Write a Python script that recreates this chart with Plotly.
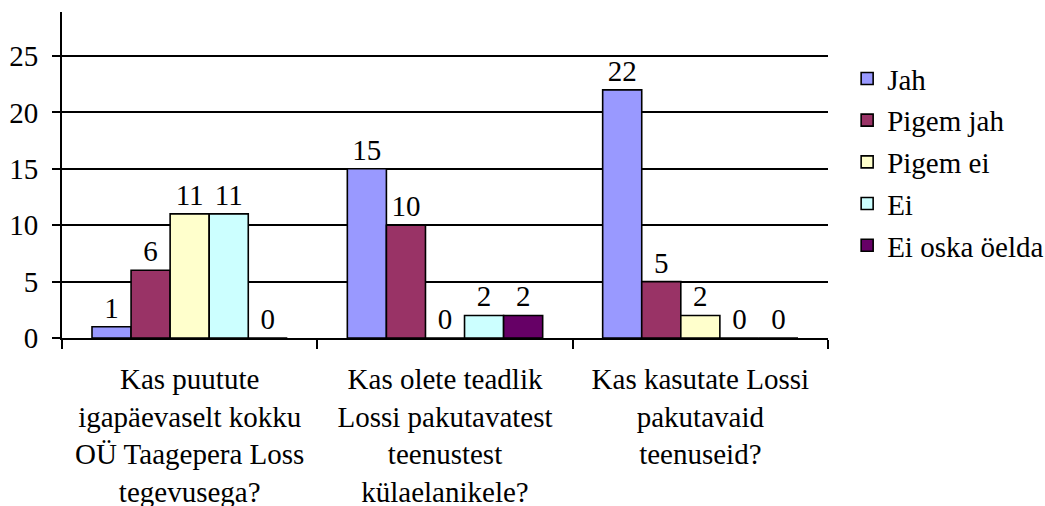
import plotly.graph_objects as go

categories = [
    "Kas puutute<br>igapäevaselt kokku<br>OÜ Taagepera Loss<br>tegevusega?",
    "Kas olete teadlik<br>Lossi pakutavatest<br>teenustest<br>külaelanikele?",
    "Kas kasutate Lossi<br>pakutavaid<br>teenuseid?",
]
series_names = ["Jah", "Pigem jah", "Pigem ei", "Ei", "Ei oska öelda"]
jah = [1, 15, 22]
pigem_jah = [6, 10, 5]
pigem_ei = [11, 0, 2]
ei = [11, 2, 0]
ei_oska = [0, 2, 0]
series_values = [jah, pigem_jah, pigem_ei, ei, ei_oska]
colors = ["#9999FF", "#993366", "#FFFFCC", "#CCFFFF", "#660066"]
y_ticks = [0, 5, 10, 15, 20, 25]

FONT = "Times New Roman, serif"
FS = 29

fig = go.Figure()
for i, (name, vals, col) in enumerate(zip(series_names, series_values, colors)):
    fig.add_trace(go.Bar(
        name=name, x=categories, y=vals,
        marker=dict(color=col, line=dict(color="black", width=1.6)),
        text=[str(v) for v in vals], textposition="outside",
        textfont=dict(family=FONT, size=FS, color="black"),
        cliponaxis=False, legendgroup=f"g{i}",
    ))

fig.update_layout(
    width=1045, height=506,
    margin=dict(l=62, r=217, t=12, b=168, autoexpand=False),
    paper_bgcolor="white", plot_bgcolor="white",
    barmode="group", bargap=0.235, bargroupgap=0,
    font=dict(family=FONT, size=FS, color="black"),
    showlegend=True,
    legend=dict(
        x=1.025, y=0.874, xanchor="left", yanchor="top",
        font=dict(family=FONT, size=FS, color="black"),
        traceorder="grouped", tracegroupgap=1,
        itemwidth=30, bgcolor="rgba(0,0,0,0)",
    ),
)
fig.update_yaxes(
    range=[0, 28.9], tickvals=y_ticks, ticktext=[str(t) for t in y_ticks],
    showgrid=True, gridcolor="black", gridwidth=1.6,
    showline=True, linecolor="black", linewidth=2,
    ticks="outside", ticklen=8, tickcolor="black", tickwidth=2,
    zeroline=False, tickfont=dict(family=FONT, size=FS), automargin=False,
    ticklabelstandoff=8,
)
fig.update_xaxes(
    range=[-0.5, 2.5], showline=True, linecolor="black", linewidth=2,
    ticks="outside", tickson="boundaries", ticklen=9, tickcolor="black", tickwidth=2,
    showgrid=False, tickfont=dict(family=FONT, size=FS), ticklabelstandoff=14,
    automargin=False,
)
fig.write_html("out.html", config={"displayModeBar": False},
               post_script="document.body.style.margin='0';")
